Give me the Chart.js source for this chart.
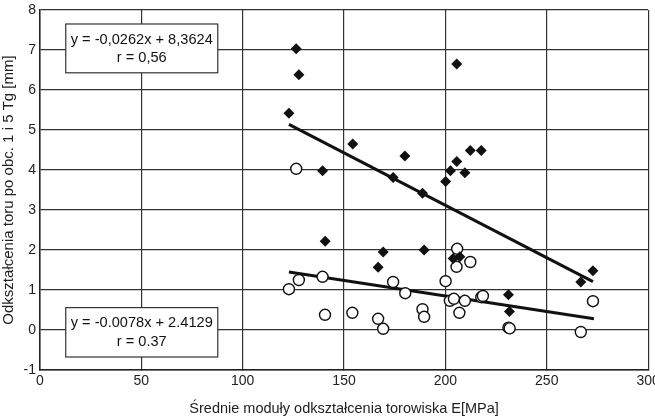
<!DOCTYPE html>
<html>
<head>
<meta charset="utf-8">
<script src="https://cdn.jsdelivr.net/npm/chart.js@4"></script>
<style>
  body { margin: 0; background: #fff; }
</style>
</head>
<body>
<canvas id="myChart" width="655" height="418"></canvas>
<script>
// deformation after 1 Tg load (diamonds) and after 5 Tg (circles)
var diamondX = [126.4, 127.7, 122.8, 205.6, 154.3, 139.4, 180.0, 174.2, 188.7, 200.1, 202.5, 205.6, 209.6, 212.3, 217.7,
                140.7, 169.3, 166.8, 189.5, 203.8, 207.1, 231.1, 231.6, 266.8, 272.8];
var diamondY = [7.03, 6.38, 5.42, 6.65, 4.65, 3.98, 4.35, 3.81, 3.42, 3.71, 3.98, 4.21, 3.93, 4.49, 4.49,
                2.22, 1.95, 1.57, 2.00, 1.79, 1.83, 0.88, 0.46, 1.20, 1.48];
var circleX = [126.4, 122.8, 127.7, 139.4, 140.6, 154.1, 166.8, 169.3, 174.2, 180.2, 188.7, 189.5, 200.1, 202.2, 204.2,
               205.8, 205.5, 206.9, 209.6, 212.3, 217.7, 218.5, 231.1, 231.7, 272.8, 266.8];
var circleY = [4.03, 1.02, 1.25, 1.33, 0.38, 0.43, 0.28, 0.03, 1.20, 0.92, 0.52, 0.33, 1.22, 0.73, 0.78,
               2.03, 1.58, 0.43, 0.73, 1.70, 0.82, 0.85, 0.06, 0.04, 0.72, -0.05];

// trend line ends
var trend1X = [122.8, 272.8];
var trend1Y = [5.14, 1.21];
var trend2X = [122.8, 273.3];
var trend2Y = [1.45, 0.28];

var xTicks = [0, 50, 100, 150, 200, 250, 300];
var yTicks = [-1, 0, 1, 2, 3, 4, 5, 6, 7, 8];

var eq1 = ['y = -0,0262x + 8,3624', 'r = 0,56'];
var eq2 = ['y = -0.0078x + 2.4129', 'r = 0.37'];
// text boxes in axis units: [x1, y1, x2, y2]
var box1 = [12.7, 7.65, 87.7, 6.43];
var box2 = [12.7, 0.56, 87.7, -0.675];

function pts(xs, ys) {
    return xs.map(function (x, i) { return { x: x, y: ys[i] }; });
}

var FONT = '"Liberation Sans", Arial, sans-serif';

var eqBoxes = {
    id: 'eqBoxes',
    afterDatasetsDraw: function (chart) {
        var c = chart.ctx, sx = chart.scales.x, sy = chart.scales.y;
        [[box1, eq1], [box2, eq2]].forEach(function (b) {
            var x1 = sx.getPixelForValue(b[0][0]), y1 = sy.getPixelForValue(b[0][1]);
            var x2 = sx.getPixelForValue(b[0][2]), y2 = sy.getPixelForValue(b[0][3]);
            c.save();
            c.fillStyle = '#fff';
            c.fillRect(x1, y1, x2 - x1, y2 - y1);
            c.strokeStyle = '#333';
            c.lineWidth = 1.2;
            c.strokeRect(x1, y1, x2 - x1, y2 - y1);
            c.fillStyle = '#111';
            c.font = '14.6px ' + FONT;
            c.textAlign = 'center';
            c.textBaseline = 'middle';
            var cx = (x1 + x2) / 2, h = y2 - y1;
            c.fillText(b[1][0], cx, y1 + h * 0.32);
            c.fillText(b[1][1], cx, y1 + h * 0.69);
            c.restore();
        });
    }
};

var ctx = document.getElementById('myChart').getContext('2d');
var myChart = new Chart(ctx, {
    type: 'scatter',
    data: {
        datasets: [{
            data: pts(diamondX, diamondY),
            pointStyle: 'rectRot',
            pointRadius: 5.5,
            backgroundColor: '#111',
            borderColor: '#111',
            borderWidth: 0
        }, {
            data: pts(circleX, circleY),
            pointStyle: 'circle',
            pointRadius: 5.5,
            backgroundColor: '#fff',
            borderColor: '#111',
            borderWidth: 1.4
        }, {
            type: 'line',
            data: pts(trend1X, trend1Y),
            borderColor: '#111',
            borderWidth: 3,
            pointRadius: 0,
            fill: false
        }, {
            type: 'line',
            data: pts(trend2X, trend2Y),
            borderColor: '#111',
            borderWidth: 3,
            pointRadius: 0,
            fill: false
        }]
    },
    options: {
        responsive: false,
        animation: false,
        layout: { padding: { top: 10, right: 2, left: 0, bottom: 0 } },
        plugins: {
            legend: { display: false },
            tooltip: { enabled: false }
        },
        scales: {
            x: {
                type: 'linear',
                min: 0,
                max: 300,
                afterBuildTicks: function (s) { s.ticks = xTicks.map(function (v) { return { value: v }; }); },
                afterFit: function (s) { s.height = 48; s.paddingLeft = 0; s.paddingRight = 0; },
                grid: { color: '#333', lineWidth: 1.2, tickLength: 0 },
                border: { color: '#222', width: 1.5 },
                ticks: { color: '#222', font: { family: FONT, size: 14 }, padding: 3, maxRotation: 0 },
                title: {
                    display: true,
                    text: 'Średnie moduły odkształcenia torowiska E[MPa]',
                    color: '#222',
                    font: { family: FONT, size: 14.5 },
                    padding: { top: 3, bottom: 0 }
                }
            },
            y: {
                min: -1,
                max: 8,
                afterBuildTicks: function (s) { s.ticks = yTicks.map(function (v) { return { value: v }; }); },
                afterFit: function (s) { s.width = 40; s.paddingTop = 0; s.paddingBottom = 0; },
                grid: { color: '#333', lineWidth: 1.2, tickLength: 0 },
                border: { color: '#222', width: 1.5 },
                ticks: { color: '#222', font: { family: FONT, size: 14 }, padding: 4 },
                title: {
                    display: true,
                    text: 'Odkształcenia toru po obc. 1 i 5 Tg [mm]',
                    color: '#222',
                    font: { family: FONT, size: 15 },
                    padding: { top: 0, bottom: 1 }
                }
            }
        }
    },
    plugins: [eqBoxes]
});
</script>
</body>
</html>
